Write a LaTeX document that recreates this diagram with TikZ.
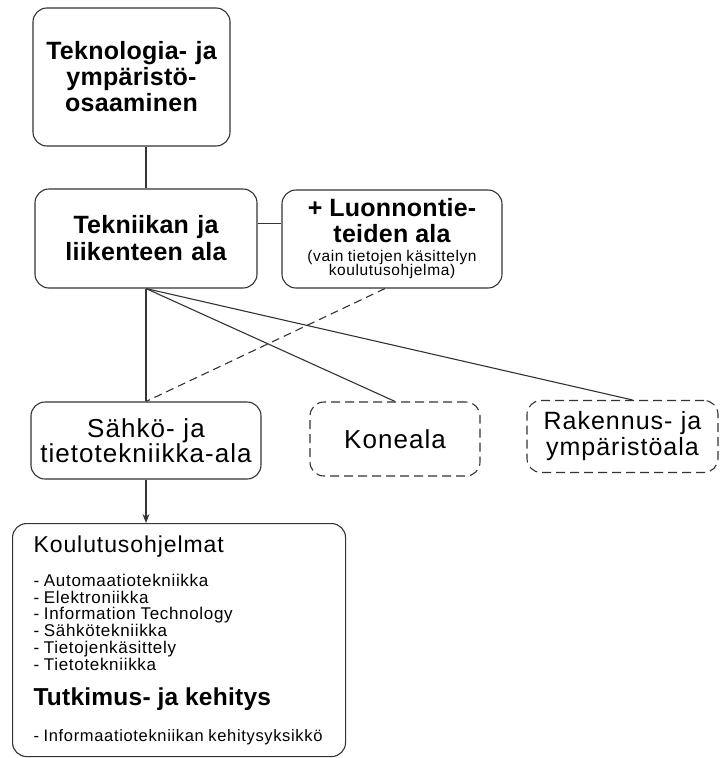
\documentclass[tikz,border=0pt]{standalone}
\usepackage{fontspec}
\setmainfont{Liberation Sans}[UprightFeatures={LetterSpace=4}, BoldFeatures={LetterSpace=1}]
\usetikzlibrary{arrows.meta}
\begin{document}
\begin{tikzpicture}[x=1pt, y=-1pt,
  box/.style={draw=black!80, line width=1.1pt, rounded corners=14pt, align=center, inner sep=0pt},
  dashbox/.style={box, dash pattern=on 9pt off 5pt},
  link/.style={draw=black!80, line width=1.1pt}]
\useasboundingbox (0,0) rectangle (720,758);
\node[box, minimum width=197pt, minimum height=138pt, text width=190pt,
  font=\fontsize{25}{26}\selectfont\bfseries] (tekno) at (131.5,77) {Teknologia- ja\\ ympäristö-\\ osaaminen};
\node[box, minimum width=222pt, minimum height=99pt, text width=215pt,
  font=\fontsize{25}{27}\selectfont\bfseries] (tek) at (146,238.5) {Tekniikan ja\\ liikenteen ala};
\node[box, minimum width=220pt, minimum height=98pt, text width=214pt] (luo) at (392,239)
  {{\fontsize{25}{26}\selectfont\bfseries\spaceskip=.28em + Luonnontie-\\ teiden ala\par}\vspace{4pt}
   {\fontsize{15.5}{14.5}\selectfont\spaceskip=.28em (vain tietojen käsittelyn\\ koulutusohjelma)\par}};
\node[box, minimum width=230pt, minimum height=77pt, text width=224pt,
  font=\fontsize{26}{25}\selectfont] (sahko) at (146,440.5) {Sähkö- ja\\ tietotekniikka-ala};
\node[dashbox, minimum width=170pt, minimum height=74pt, text width=160pt,
  font=\fontsize{26}{25}\selectfont] (kone) at (395,439) {Koneala};
\node[dashbox, minimum width=191pt, minimum height=72pt, text width=185pt,
  font=\fontsize{25}{26}\selectfont] (rak) at (622.5,436.5) {Rakennus- ja\\ ympäristöala};
\node[box, align=left, anchor=north west, minimum width=333pt, minimum height=233pt, text width=291pt] (koul) at (12,523)
  {{\fontsize{23}{24}\selectfont Koulutusohjelmat\par}\vspace{16pt}
   {\fontsize{17}{16.8}\selectfont\spaceskip=.28em - Automaatiotekniikka\\ - Elektroniikka\\ - Information Technology\\
    - Sähkötekniikka\\ - Tietojenkäsittely\\ - Tietotekniikka\par}\vspace{8pt}
   {\fontsize{24.5}{27}\selectfont\bfseries\spaceskip=.28em Tutkimus- ja kehitys\par}\vspace{18pt}
   {\fontsize{16.5}{16.8}\selectfont\spaceskip=.28em - Informaatiotekniikan kehitysyksikkö\par}};
\coordinate (tekR) at ([yshift=15pt]tek.east);
\draw[link] (tek.north |- tekno.south) -- (tek.north);
\draw[link] (tekR) -- (tekR -| luo.west);
\draw[link] (tek.south) -- (sahko.north);
\draw[link] (tek.south) -- (kone.north);
\draw[link] (tek.south) -- ([xshift=10pt]rak.north);
\draw[link, dash pattern=on 8pt off 5pt] ([xshift=-7pt]luo.south) -- (sahko.north);
\draw[link, -{Stealth[length=9pt,width=7pt]}] (sahko.south) -- (sahko.south |- koul.north);
\end{tikzpicture}
\end{document}
